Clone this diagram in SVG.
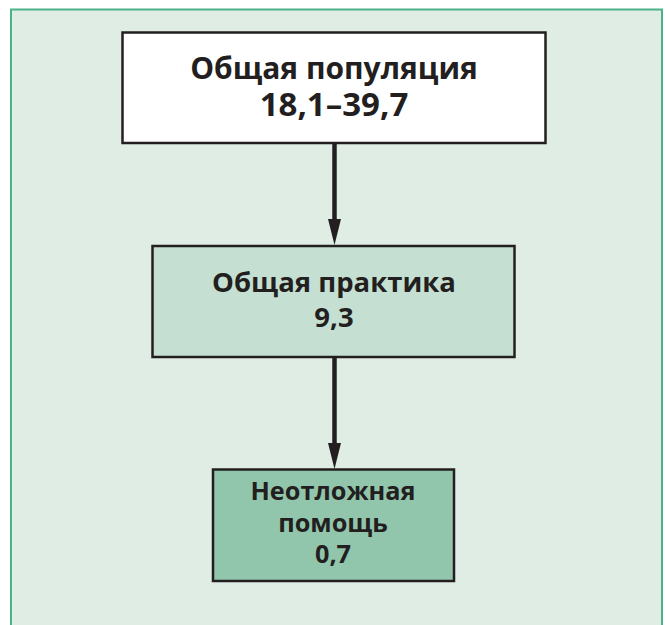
<svg xmlns="http://www.w3.org/2000/svg" width="665" height="625" viewBox="0 0 665 625">
<defs>
<style>
.bx{stroke:#231f20;stroke-width:2.5}
.t{font-family:"Open Sans","Noto Sans",sans-serif;font-weight:bold;fill:#231f20;text-anchor:middle}
.c{stroke:#231f20;stroke-width:4.5;fill:none}
</style>
<marker id="ah" markerUnits="userSpaceOnUse" markerWidth="26" markerHeight="13" refX="4" refY="6.5" orient="auto" viewBox="0 0 26 13">
<path d="M0,0 L26,6.5 L0,13 Z" fill="#231f20"/>
</marker>
</defs>
<rect x="0" y="0" width="665" height="625" fill="#ffffff"/>
<rect x="11" y="9.5" width="651" height="630" fill="#e0ede5" stroke="#4bb388" stroke-width="2"/>
<g id="connectors">
<line class="c" x1="334.5" y1="144" x2="334.5" y2="223" marker-end="url(#ah)"/>
<line class="c" x1="334.5" y1="357" x2="334.5" y2="447" marker-end="url(#ah)"/>
</g>
<g id="node1">
<rect class="bx" x="122.5" y="32.5" width="423" height="110.5" fill="#ffffff"/>
<text class="t" x="334" y="79" font-size="30">Общая популяция</text>
<text class="t" x="334" y="116" font-size="33">18,1–39,7</text>
</g>
<g id="node2">
<rect class="bx" x="152.5" y="246" width="362" height="111" fill="#c5e0d2"/>
<text class="t" x="334" y="292" font-size="27.5">Общая практика</text>
<text class="t" x="334" y="327" font-size="27.5">9,3</text>
</g>
<g id="node3">
<rect class="bx" x="213" y="469.5" width="241" height="111.5" fill="#91c6ac"/>
<text class="t" x="333" y="500" font-size="25.3">Неотложная</text>
<text class="t" x="333" y="532" font-size="25.3">помощь</text>
<text class="t" x="333" y="563" font-size="25.3">0,7</text>
</g>
</svg>
